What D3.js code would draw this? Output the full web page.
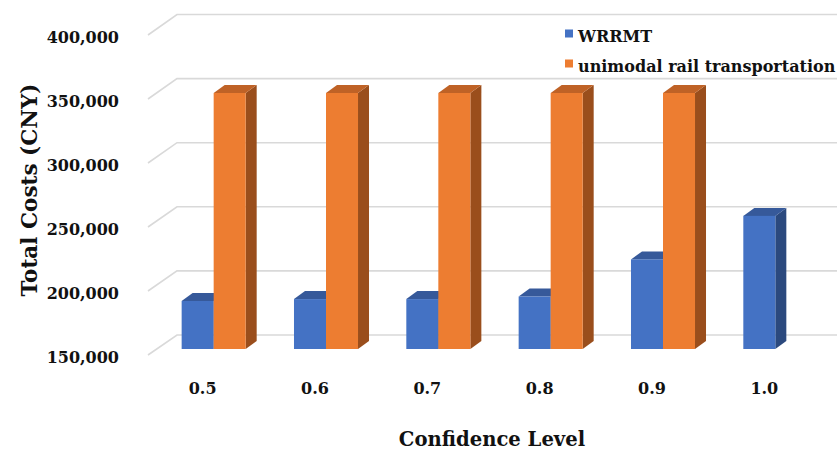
<!DOCTYPE html>
<html>
<head>
<meta charset="utf-8">
<script src="https://cdn.jsdelivr.net/npm/d3@7/dist/d3.min.js"></script>
<style>
  html, body { margin: 0; padding: 0; background: #fff; }
  svg { display: block; }
  text { font-family: "DejaVu Serif", serif; font-weight: bold; fill: #111; }
</style>
</head>
<body>
<svg id="chart" width="837" height="450"></svg>
<script>
// ---- data ----
const categories = ["0.5", "0.6", "0.7", "0.8", "0.9", "1.0"];
const seriesNames = ["WRRMT", "unimodal rail transportation"];
const wrrmtValues = [187500, 189000, 189000, 191000, 220000, 254000];
const railValues = [350000, 350000, 350000, 350000, 350000, null];
const yTickValues = [150000, 200000, 250000, 300000, 350000, 400000];
const yTitle = "Total Costs (CNY)";
const xTitle = "Confidence Level";

// ---- layout ----
const W = 837, H = 450;
const svg = d3.select("#chart");
const colors = {
  WRRMT: { front: "#4472C4", top: "#36599A", side: "#2B497E" },
  "unimodal rail transportation": { front: "#ED7D31", top: "#BF6226", side: "#9A4E1C" }
};

// wall depth (floor from front-left to back wall)
const wallDX = 29, wallDY = -20.5;
// bar depth
const barDX = 11, barDY = -8;

const yDomain = [150000, 400000];
const yBack = d3.scaleLinear().domain(yDomain).range([335, 14.5]);
const yFront = d3.scaleLinear().domain(yDomain).range([355, 35]);
const yBar = d3.scaleLinear().domain(yDomain).range([349, 29]);

const x = d3.scaleBand().domain(categories).range([157.5, 831.5])
  .paddingInner(0.43).paddingOuter(0.215);
const xs = d3.scaleBand().domain(seriesNames).range([0, x.bandwidth()]);

// ---- gridlines ----
const grid = svg.append("g").attr("stroke", "#D9D9D9").attr("stroke-width", 1.6).attr("fill", "none");
yTickValues.forEach(v => {
  grid.append("path").attr("d",
    `M${148},${yFront(v)} L${148 + wallDX},${yBack(v)} L${W},${yBack(v)}`);
});

// ---- bars ----
const rows = categories.map((c, i) => ({ cat: c, vals: [wrrmtValues[i], railValues[i]] }));
const bars = svg.append("g");
rows.forEach(r => {
  seriesNames.forEach((s, j) => {
    const v = r.vals[j];
    if (v == null) return;
    const x0 = x(r.cat) + xs(s);
    const w = xs.bandwidth();
    const y0 = yBar(yDomain[0]);
    const y1 = yBar(v);
    const g = bars.append("g");
    // side face
    g.append("path").attr("fill", colors[s].side).attr("d",
      `M${x0 + w},${y0} L${x0 + w + barDX},${y0 + barDY} L${x0 + w + barDX},${y1 + barDY} L${x0 + w},${y1} Z`);
    // top face
    g.append("path").attr("fill", colors[s].top).attr("d",
      `M${x0},${y1} L${x0 + barDX},${y1 + barDY} L${x0 + w + barDX},${y1 + barDY} L${x0 + w},${y1} Z`);
    // front face
    g.append("rect").attr("fill", colors[s].front)
      .attr("x", x0).attr("y", y1).attr("width", w).attr("height", y0 - y1);
  });
});

// ---- y axis labels ----
const yAxis = d3.axisLeft(yFront).tickValues(yTickValues)
  .tickFormat(d3.format(",")).tickSize(0).tickPadding(0);
const yg = svg.append("g").attr("transform", "translate(119,2)").call(yAxis);
yg.select(".domain").remove();
yg.selectAll("text").attr("font-family", "DejaVu Serif, serif").attr("font-weight", "bold")
  .attr("font-size", 16).attr("fill", "#111");

// ---- x labels ----
svg.append("g").selectAll("text").data(categories).join("text")
  .attr("x", d => x(d) + x.bandwidth() / 2 - 11)
  .attr("y", 394)
  .attr("text-anchor", "middle")
  .attr("font-size", 16)
  .text(d => d);

// ---- titles ----
svg.append("text")
  .attr("transform", "translate(37,190) rotate(-90)")
  .attr("text-anchor", "middle")
  .attr("font-size", 21.5)
  .text(yTitle);

svg.append("text")
  .attr("x", 492).attr("y", 446)
  .attr("text-anchor", "middle")
  .attr("font-size", 19.6)
  .text(xTitle);

// ---- legend ----
const legend = svg.append("g");
const legendY = [41.5, 71.5];
seriesNames.forEach((s, i) => {
  legend.append("rect").attr("x", 565).attr("y", legendY[i] - 12)
    .attr("width", 8).attr("height", 8).attr("fill", colors[s].front);
  legend.append("text").attr("x", 578).attr("y", legendY[i])
    .attr("font-size", 16).text(s);
});
</script>
</body>
</html>
